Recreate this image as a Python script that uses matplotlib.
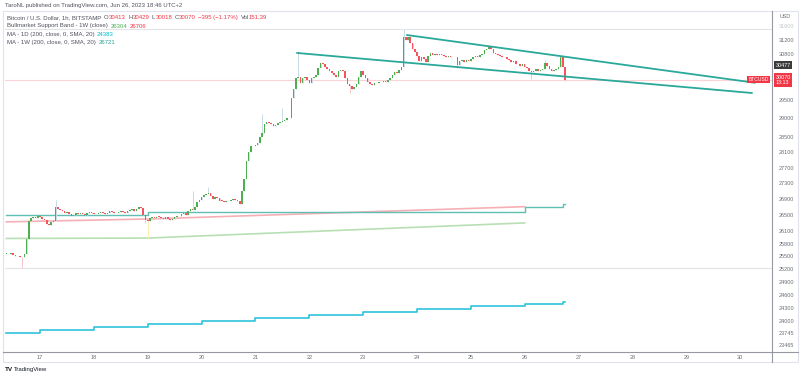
import numpy as np
import matplotlib
matplotlib.use("Agg")
import matplotlib.pyplot as plt
import matplotlib.transforms as mtransforms
from matplotlib.lines import Line2D
from matplotlib.patches import Rectangle

plt.rcParams['font.family'] = ['Liberation Sans', 'DejaVu Sans']

# ---- data -----------------------------------------------------------------
# hourly BTC/USD candles, Jun 16 09:00 .. Jun 26 18:00 (UTC+2)
# x unit = hours since Jun 17 00:00, candle i sits at i + T_START
T_START = -15
first_open = 25550
closes = [
    25560, 25540, 25570, 25530, 25510, 25500, 25480, 25470, 25560, 25900,
    26350, 26420, 26460, 26430, 26470, 26440, 26400, 26380, 26280, 26250,
    26320, 26360, 26690, 26650, 26620, 26600, 26560, 26580, 26530, 26480,
    26500, 26540, 26520, 26560, 26530, 26510, 26550, 26570, 26540, 26520,
    26530, 26560, 26580, 26540, 26520, 26560, 26600, 26580, 26550, 26540,
    26570, 26610, 26580, 26550, 26590, 26620, 26640, 26600, 26650, 26690,
    26680, 26500, 26380, 26350, 26420, 26440, 26420, 26460, 26450, 26430,
    26410, 26440, 26400, 26380, 26400, 26440, 26480, 26470, 26520, 26560,
    26500, 26600, 26650, 26620, 26700, 26820, 26880, 26950, 27000, 27020,
    27050, 26980, 26900, 26950, 26920, 26860, 26850, 26830, 26860, 26840,
    26870, 26900, 26880, 26850, 26780, 27100, 27400, 27860, 28100, 28250,
    28260, 28300, 28350, 28490, 28600, 28840, 28900, 28870, 28850, 28800,
    28830, 28880, 28900, 28920, 28950, 29000, 29020, 29560, 29800, 30100,
    30150, 29980, 30100, 30150, 30050, 29980, 30100, 30140, 30200, 30400,
    30540, 30500, 30420, 30380, 30300, 30250, 30200, 30150, 30300, 30350,
    30300, 30100, 29950, 29900, 29800, 29850, 29950, 30150, 30300, 30200,
    30100, 30000, 29950, 29920, 29960, 29980, 30010, 30000, 30030, 30000,
    30060, 30100, 30200, 30280, 30250, 30350, 30420, 31290, 31200, 31300,
    31100, 30950, 30850, 30750, 30600, 30700, 30650, 30560, 30750, 30820,
    30780, 30800, 30760, 30800, 30780, 30750, 30700, 30730, 30700, 30720,
    30700, 30480, 30600, 30620, 30580, 30620, 30600, 30650, 30700, 30750,
    30720, 30760, 30800, 30900, 30950, 31000, 30940, 30820, 30800, 30760,
    30740, 30700, 30720, 30650, 30620, 30560, 30600, 30520, 30500, 30450,
    30500, 30420, 30400, 30320, 30280, 30320, 30360, 30300, 30330, 30380,
    30540, 30450, 30380, 30300, 30330, 30380, 30420, 30710, 30413, 30070,
]
# visible wick extremes (candle index, price)
wick_highs = [(22, 26870), (83, 27090), (90, 27200), (114, 29130), (123, 29270),
              (130, 30870), (177, 31520), (240, 30620), (249, 30429)]
wick_lows = [(7, 25220), (62, 26300), (153, 29700), (201, 30400), (234, 30080),
             (249, 30018)]

# Bullmarket Support Band - 1W
band_t = [-15, 48, 216]
band_sma = [25925, 25935, 26304]
band_ema = [26330, 26400, 26706]

# MA 200 on 1D (daily steps)
ma1d_t = [-15, 0, 24, 48, 72, 96, 120, 144, 168, 192, 216, 233, 234]
ma1d_v = [23745, 23810, 23876, 23942, 24009, 24076, 24143, 24211, 24279, 24347,
          24383, 24440, 24440]

# MA 200 on 1W (weekly steps)
ma1w_t = [-15, 48, 216, 233, 234]
ma1w_v = [26500, 26570, 26690, 26770, 26770]

# falling channel (start time, start price, end time, end price)
channel_upper = (163.5, 31346, 318.6, 29980)
channel_lower = (114.5, 30826, 317.3, 29695)

h_lines = [31510, 25210]
last_price = 30070
marker_price = 30477

y_ticks = [31600, 31200, 30800, 29500, 29000, 28500, 28100, 27700, 27300, 26900,
           26500, 26100, 25800, 25500, 25200, 24900, 24600, 24300, 24000, 23745, 23465]
day_labels = ['17', '18', '19', '20', '21', '22', '23', '24', '25', '26', '27', '28', '29', '30']

# ---- styles ---------------------------------------------------------------
UP = '#4caf50'
DOWN = '#f7525f'
UP_WICK = '#c9dce6'
DOWN_WICK = '#f8c6cb'
TEAL = '#2aa89a'
GRAY_TXT = '#6a6d78'
W, H = 800, 378

fig = plt.figure(figsize=(8, 3.78), dpi=100)
ax = fig.add_axes([5 / W, 27 / H, 767 / W, 340 / H])
ax.set_yscale('log')
ax.set_ylim(23340, 32057)
ax.set_xlim(-15.6, 326.2)

# horizontal reference lines
for p in h_lines:
    ax.axhline(p, color='#e3e4e8', lw=0.8, zorder=1)
ax.axhline(last_price, color='#fbd3d7', lw=0.8, zorder=1)

# indicator lines
ax.plot(band_t, band_ema, color='#f6b0b5', lw=1.2, zorder=2)
ax.plot(band_t, band_sma, color='#b7dfb3', lw=1.2, zorder=2)
ax.vlines(band_t[1], band_sma[1], band_ema[1], color='#fbeeb0', lw=0.8, zorder=2)
ax.plot(ma1w_t, ma1w_v, color='#5fbfb3', lw=1.0, drawstyle='steps-post', zorder=2)
ax.plot(ma1d_t, ma1d_v, color='#2ec4dc', lw=1.2, drawstyle='steps-post', zorder=2)

# candles
n = len(closes)
t = np.arange(n) + T_START
c = np.array(closes, dtype=float)
o = np.array([first_open] + closes[:-1], dtype=float)
body_lo = np.minimum(o, c)
hi = np.maximum(o, c)
lo = body_lo.copy()
for i, p in wick_highs:
    hi[i] = p
for i, p in wick_lows:
    lo[i] = p
up = c >= o
ax.vlines(t[up], lo[up], hi[up], color=UP_WICK, lw=0.7, zorder=3)
ax.vlines(t[~up], lo[~up], hi[~up], color=DOWN_WICK, lw=0.7, zorder=3)
body_h = np.maximum(np.abs(c - o), 14)
ax.bar(t[up], body_h[up], bottom=body_lo[up], width=0.7, color=UP, linewidth=0, zorder=4)
ax.bar(t[~up], body_h[~up], bottom=body_lo[~up], width=0.7, color=DOWN, linewidth=0, zorder=4)

# channel
for x0, p0, x1, p1 in (channel_upper, channel_lower):
    ax.plot([x0, x1], [p0, p1], color=TEAL, lw=1.3, zorder=5, solid_capstyle='round')

# axes styling
for s in ('left', 'top', 'right', 'bottom'):
    ax.spines[s].set_visible(False)
ax.yaxis.tick_right()
ax.yaxis.set_minor_locator(matplotlib.ticker.NullLocator())
ax.set_yticks(y_ticks)
ax.set_yticklabels([str(v) for v in y_ticks])
ax.tick_params(axis='y', length=0, pad=4.5, labelsize=4.0, labelcolor=GRAY_TXT)
ax.get_yticklabels()[0].set_color('#c4c6cc')
ax.set_xticks(np.arange(len(day_labels)) * 24)
ax.set_xticklabels(day_labels)
ax.tick_params(axis='x', length=0, pad=3, labelsize=4.0, labelcolor=GRAY_TXT)

# price labels on the axis
bt = mtransforms.blended_transform_factory(ax.transAxes, ax.transData)
ax.text(1.0045, marker_price, str(marker_price), transform=bt, fontsize=3.9, color='white',
        va='center', ha='left', clip_on=False, zorder=6,
        bbox=dict(boxstyle='square,pad=0.25', fc='#3b3b3b', ec='none'))
ax.text(1.0045, last_price * np.exp(5 / 1070), '30070\n13:13', transform=bt, fontsize=3.9,
        color='white', va='top', ha='left', linespacing=1.1, clip_on=False, zorder=6,
        bbox=dict(boxstyle='square,pad=0.3', fc='#f23645', ec='none'))
ax.text(0.9955, last_price, 'BTCUSD', transform=bt, fontsize=3.6, color='white',
        va='center', ha='right', clip_on=False, zorder=6,
        bbox=dict(boxstyle='square,pad=0.2', fc='#f23645', ec='none'))
fig.text(785 / W, 1 - 16 / H, 'USD', fontsize=3.9, color=GRAY_TXT, ha='center', va='center')

# frame and separators
fig.add_artist(Rectangle((3 / W, 1 - 362 / H), 795 / W, 351 / H, transform=fig.transFigure,
                         fill=False, ec='#e0e3eb', lw=0.8))
fig.add_artist(Line2D([772 / W, 772 / W], [1 - 11 / H, 1 - 362 / H], transform=fig.transFigure,
                      color='#9598a1', lw=0.8))
fig.add_artist(Line2D([3 / W, 798 / W], [1 - 351.5 / H, 1 - 351.5 / H], transform=fig.transFigure,
                      color='#9598a1', lw=0.8))

# header and legend texts
renderer = fig.canvas.get_renderer()


def chain(x_px, y_px, parts, size=4.3):
    x = x_px / W
    for txt, col, gap in parts:
        tx = fig.text(x, 1 - y_px / H, txt, fontsize=size, color=col, va='center', ha='left')
        bb = tx.get_window_extent(renderer)
        x = bb.x1 / W + gap / W


RED = '#f23645'
LG = '#50535e'
fig.text(5 / W, 1 - 5 / H, 'TaroNL published on TradingView.com, Jun 26, 2023 18:46 UTC+2',
         fontsize=4.3, color='#50535e', va='center')
chain(7, 17.5, [('Bitcoin / U.S. Dollar, 1h, BITSTAMP', LG, 3),
                ('O', LG, 0), ('30413', RED, 2.5), ('H', LG, 0), ('30429', RED, 2.5),
                ('L', LG, 0), ('30018', RED, 2.5), ('C', LG, 0), ('30070', RED, 2.5),
                ('\u2212395 (\u22121.17%)', RED, 2.5), ('Vol', LG, 0), ('151.39', RED, 0)])
chain(7, 26, [('Bullmarket Support Band - 1W (close)', LG, 2.5), ('26304', '#4caf50', 2.5),
              ('26706', '#f23645', 0)])
chain(7, 34.5, [('MA - 1D (200, close, 0, SMA, 20)', LG, 2.5), ('24383', '#00bcd4', 0)])
chain(7, 42.5, [('MA - 1W (200, close, 0, SMA, 20)', LG, 2.5), ('26721', '#26a69a', 0)])

fig.text(5 / W, 1 - 369.5 / H, 'TV', fontsize=4.6, color='#131722', weight='bold', va='center')
fig.text(14 / W, 1 - 369.5 / H, 'TradingView', fontsize=4.3, color='#131722', va='center')

fig.savefig('out.png', dpi=100)
